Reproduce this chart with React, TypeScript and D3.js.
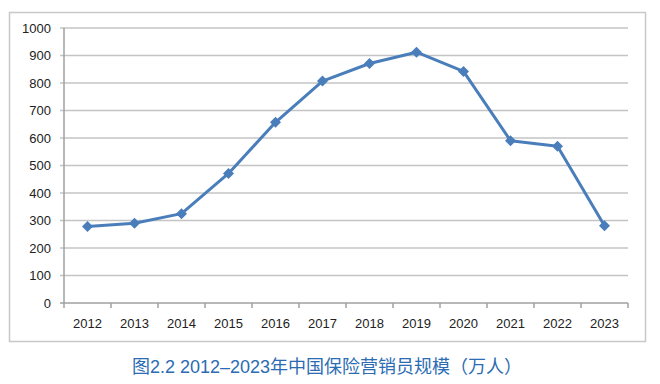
import React from "react";
import * as d3 from "d3";

const years = ["2012","2013","2014","2015","2016","2017","2018","2019","2020","2021","2022","2023"];
const agents = [278, 290, 325, 471, 657, 807, 871, 912, 842, 590, 570, 281];
const yTicks = [0,100,200,300,400,500,600,700,800,900,1000];
const title = "图2.2 2012–2023年中国保险营销员规模（万人）";

export default function App() {
  const W = 660, H = 384;
  const left = 64, right = 628, top = 28, bottom = 303;
  const x = d3.scaleBand().domain(years).range([left, right]);
  const y = d3.scaleLinear().domain([0, 1000]).range([bottom, top]);
  const line = d3.line<number>()
    .x((_, i) => (x(years[i]) as number) + x.bandwidth() / 2)
    .y(d => y(d));
  const font = "'Liberation Sans', Arial, sans-serif";
  const r = 5.5;
  const diamond = `M0,${-r}L${r},0L0,${r}L${-r},0Z`;
  return (
    <svg width={W} height={H} style={{ position: "absolute", left: 0, top: 0, background: "#fff" }}>
      <rect x={9.5} y={12.5} width={636} height={329} fill="#fff" stroke="#c8c8c8" strokeWidth={1.5} />
      {yTicks.map(t => (
        <g key={t}>
          <line x1={left - 4} x2={right} y1={y(t)} y2={y(t)} stroke={t === 0 ? "#a0a0a0" : "#c4c4c4"} strokeWidth={1.5} />
          <text x={51} y={y(t)} dy="0.35em" textAnchor="end" fontFamily={font} fontSize={13} fill="#222">{t}</text>
        </g>
      ))}
      <line x1={left} x2={left} y1={top} y2={bottom + 5} stroke="#a0a0a0" strokeWidth={1.5} />
      {years.map((yr) => (
        <g key={yr}>
          <line x1={(x(yr) as number) + x.bandwidth()} x2={(x(yr) as number) + x.bandwidth()} y1={bottom} y2={bottom + 5} stroke="#a0a0a0" strokeWidth={1.5} />
          <text x={(x(yr) as number) + x.bandwidth() / 2} y={328} textAnchor="middle" fontFamily={font} fontSize={13} fill="#222">{yr}</text>
        </g>
      ))}
      <path d={line(agents) || ""} fill="none" stroke="#4a7ebb" strokeWidth={3} strokeLinejoin="round" />
      {agents.map((v, i) => {
        const cx = (x(years[i]) as number) + x.bandwidth() / 2;
        const cy = y(v);
        return <path key={i} d={diamond} transform={`translate(${cx},${cy})`} fill="#4a7ebb" />;
      })}
      <text x={327} y={367} dy="0.35em" textAnchor="middle" fontFamily="'Liberation Sans', 'Noto Sans CJK SC', sans-serif" fontSize={18} fill="#2b6cb3">{title}</text>
    </svg>
  );
}
